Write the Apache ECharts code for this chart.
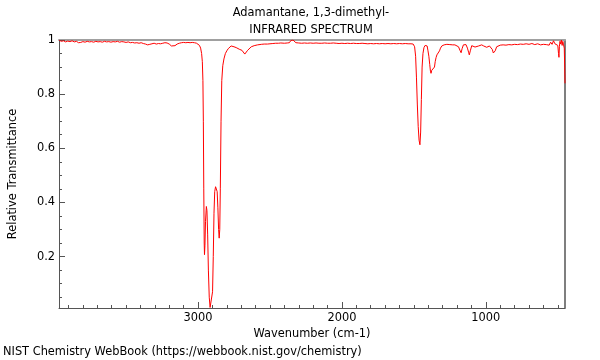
<!DOCTYPE html>
<html>
<head>
<meta charset="utf-8">
<script src="https://cdn.jsdelivr.net/npm/echarts@6/dist/echarts.min.js"></script>
<style>
html,body{margin:0;padding:0;background:#fff;}
#chart{width:600px;height:360px;}
</style>
</head>
<body>
<div id="chart"></div>
<script>
// Wavenumbers (cm-1)
const wavenumbers = [
3966,3950,3935,3920,3905,3890,3875,3860,3845,3830,3815,3800,3785,3770,3755,3740,3725,3710,3695,3680,
3665,3650,3635,3620,3605,3590,3575,3560,3545,3530,3515,3500,3485,3470,3455,3440,3425,3410,3395,3380,
3365,3350,3335,3320,3305,3290,3275,3260,3245,3230,3215,3200,3185,3172,3160,3145,3130,3115,3100,3085,
3070,3055,3040,3025,3010,3000,2990,2982,2975,2970,2966,2963,2960,2957,2955,2952,2948,2942,2938,2933,
2928,2922,2916,2910,2904,2899,2894,2889,2884,2878,2872,2867,2862,2857,2853,2849,2845,2840,2835,2828,
2820,2810,2800,2790,2780,2770,2760,2750,2735,2724,2710,2695,2685,2675,2665,2655,2644,2630,2610,2586,
2560,2540,2517,2500,2480,2460,2440,2425,2400,2380,2365,2355,2348,2340,2330,2320,2300,2280,2260,2240,
2220,2200,2180,2160,2140,2120,2100,2080,2060,2040,2020,2000,1980,1960,1940,1920,1900,1880,1860,1840,
1820,1800,1780,1760,1740,1720,1700,1680,1660,1640,1620,1600,1580,1560,1540,1520,1505,1495,1488,1482,
1476,1470,1464,1458,1453,1448,1443,1437,1430,1422,1414,1408,1402,1396,1390,1385,1381,1376,1371,1366,
1362,1357,1352,1346,1340,1334,1329,1322,1315,1306,1290,1271,1250,1230,1215,1202,1190,1180,1172,1165,
1156,1145,1138,1128,1120,1115,1108,1098,1085,1075,1064,1050,1040,1029,1015,1005,994,985,975,965,
955,948,942,935,925,912,900,880,860,840,820,800,780,760,740,720,700,680,660,640,
620,610,600,590,580,570,560,550,540,530,520,510,500,495,492,489,485,480,475,470,
465,460,455,452,450
];
// Relative transmittance at each wavenumber
const transmittance = [
1.000,0.995,0.997,0.993,0.996,0.994,0.997,0.993,0.995,0.990,0.991,0.994,0.992,0.995,0.993,0.994,0.992,0.995,0.993,0.994,
0.992,0.995,0.993,0.994,0.992,0.994,0.993,0.995,0.992,0.994,0.993,0.991,0.993,0.990,0.991,0.989,0.990,0.988,0.990,0.987,
0.985,0.982,0.984,0.986,0.988,0.985,0.987,0.986,0.988,0.990,0.989,0.985,0.978,0.975,0.979,0.985,0.988,0.990,0.991,0.990,
0.991,0.990,0.991,0.990,0.988,0.986,0.980,0.970,0.950,0.920,0.850,0.700,0.450,0.250,0.207,0.240,0.330,0.385,0.370,0.280,
0.150,0.050,0.012,0.010,0.015,0.070,0.200,0.360,0.440,0.458,0.460,0.440,0.380,0.300,0.268,0.300,0.450,0.700,0.850,0.905,
0.930,0.950,0.960,0.968,0.974,0.978,0.978,0.975,0.972,0.969,0.965,0.962,0.958,0.948,0.952,0.962,0.969,0.975,0.979,0.982,
0.984,0.985,0.985,0.986,0.987,0.988,0.988,0.989,0.988,0.989,0.990,0.998,0.993,1.000,0.996,0.990,0.989,0.988,0.989,0.988,
0.989,0.988,0.989,0.988,0.988,0.989,0.988,0.988,0.989,0.988,0.987,0.988,0.987,0.988,0.987,0.988,0.987,0.987,0.988,0.987,
0.986,0.987,0.986,0.987,0.986,0.987,0.986,0.987,0.986,0.987,0.986,0.987,0.986,0.987,0.986,0.986,0.985,0.975,0.940,0.860,
0.760,0.680,0.630,0.613,0.660,0.780,0.900,0.950,0.972,0.980,0.982,0.978,0.960,0.940,0.910,0.885,0.877,0.888,0.892,0.888,
0.887,0.900,0.920,0.935,0.945,0.949,0.951,0.960,0.970,0.978,0.982,0.984,0.983,0.982,0.982,0.981,0.975,0.962,0.953,0.968,
0.982,0.984,0.983,0.970,0.955,0.945,0.960,0.979,0.976,0.974,0.975,0.978,0.980,0.982,0.978,0.975,0.973,0.976,0.978,0.975,
0.965,0.952,0.948,0.960,0.975,0.979,0.981,0.982,0.981,0.983,0.982,0.984,0.983,0.985,0.984,0.986,0.984,0.987,0.983,0.986,
0.982,0.988,0.984,0.990,0.983,0.987,0.981,0.992,0.984,0.997,0.986,0.990,0.980,0.950,0.936,0.975,0.995,0.985,1.000,0.980,
0.995,0.982,0.970,0.900,0.840
];
const xMajorTicks = [1000, 2000, 3000];
const xMinorTicks = [500,600,700,800,900,1100,1200,1300,1400,1500,1600,1700,1800,1900,2100,2200,2300,2400,2500,2600,2700,2800,2900,3100,3200,3300,3400,3500,3600,3700,3800,3900];
const yMajorTicks = [0.2, 0.4, 0.6, 0.8, 1];
const yMinorTicks = [0.05,0.1,0.15,0.25,0.3,0.35,0.45,0.5,0.55,0.65,0.7,0.75,0.85,0.9,0.95];
const xRange = [450, 3966];
const yRange = [0.01, 1];
const titleLines = ['Adamantane, 1,3-dimethyl-', 'INFRARED SPECTRUM'];
const xName = 'Wavenumber (cm-1)';
const yName = 'Relative Transmittance';
const footer = 'NIST Chemistry WebBook (https://webbook.nist.gov/chemistry)';

const FONT = 'DejaVu Sans';
const FS = 11.4;
const AX = '#555';
const chart = echarts.init(document.getElementById('chart'), null, {renderer: 'canvas'});
const seriesData = wavenumbers.map((w, i) => [w, transmittance[i]]);

const baseX = {type: 'value', min: xRange[0], max: xRange[1], inverse: true, splitLine: {show: false}};
const baseY = {type: 'value', min: yRange[0], max: yRange[1], splitLine: {show: false}};
const font = FS + 'px "DejaVu Sans"';

chart.setOption({
  animation: false,
  backgroundColor: '#fff',
  grid: {left: 57, right: 35, top: 40, bottom: 52, containLabel: false},
  xAxis: [
    Object.assign({}, baseX, {
      position: 'bottom',
      axisLine: {show: true, lineStyle: {color: AX, width: 1}},
      axisTick: {show: true, inside: true, length: 3, customValues: xMinorTicks, lineStyle: {color: AX}},
      axisLabel: {show: true, customValues: xMajorTicks, color: '#000', fontSize: FS, fontFamily: FONT, margin: 5,
        formatter: v => String(v)},
      name: xName, nameLocation: 'middle', nameGap: 18,
      nameTextStyle: {color: '#000', fontSize: FS, fontFamily: FONT}
    }),
    Object.assign({}, baseX, {
      position: 'bottom',
      axisLine: {show: false},
      axisTick: {show: true, inside: true, length: 6, customValues: xMajorTicks, lineStyle: {color: AX}},
      axisLabel: {show: false}
    }),
    Object.assign({}, baseX, {
      position: 'top',
      axisLine: {show: true, lineStyle: {color: '#a0a0a0', width: 2}},
      axisTick: {show: false},
      axisLabel: {show: false}
    })
  ],
  yAxis: [
    Object.assign({}, baseY, {
      position: 'left',
      axisLine: {show: true, lineStyle: {color: AX, width: 1}},
      axisTick: {show: true, inside: true, length: 3, customValues: yMinorTicks, lineStyle: {color: AX}},
      axisLabel: {show: true, customValues: yMajorTicks, color: '#000', fontSize: FS, fontFamily: FONT, margin: 4,
        formatter: v => String(Math.round(v * 10) / 10)},
      name: yName, nameLocation: 'middle', nameGap: 40, nameRotate: 90,
      nameTextStyle: {color: '#000', fontSize: FS, fontFamily: FONT}
    }),
    Object.assign({}, baseY, {
      position: 'left',
      axisLine: {show: false},
      axisTick: {show: true, inside: true, length: 6, customValues: yMajorTicks, lineStyle: {color: AX}},
      axisLabel: {show: false}
    }),
    Object.assign({}, baseY, {
      position: 'right',
      axisLine: {show: true, lineStyle: {color: AX, width: 1.5}},
      axisTick: {show: false},
      axisLabel: {show: false}
    })
  ],
  graphic: [
    {type: 'text', x: 311, y: 13, style: {text: titleLines[0], fill: '#000', font: font, textAlign: 'center', textVerticalAlign: 'middle'}},
    {type: 'text', x: 311, y: 30, style: {text: titleLines[1], fill: '#000', font: font, textAlign: 'center', textVerticalAlign: 'middle'}},
    {type: 'text', x: 3, y: 352, style: {text: footer, fill: '#000', font: font, textAlign: 'left', textVerticalAlign: 'middle'}}
  ],
  series: [{
    type: 'line',
    xAxisIndex: 0, yAxisIndex: 0,
    data: seriesData,
    showSymbol: false,
    symbol: 'none',
    lineStyle: {color: '#ff0000', width: 1},
    clip: true
  }]
});
</script>
</body>
</html>
